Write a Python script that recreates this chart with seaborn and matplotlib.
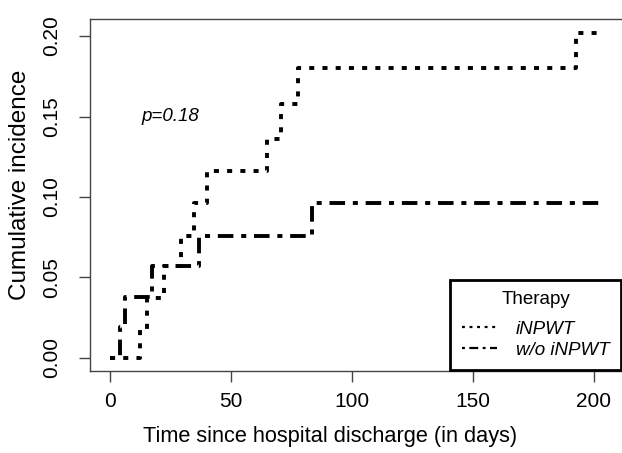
import matplotlib
matplotlib.use("Agg")
import matplotlib.pyplot as plt
import pandas as pd
import seaborn as sns

# cumulative incidence step values
INPWT_TIME = [0, 12.5, 15.5, 22.4, 29.6, 34.8, 40.0, 65.0, 70.8, 77.7, 192.5, 203.5]
INPWT_CIF = [0, 0.018, 0.037, 0.057, 0.076, 0.096, 0.116, 0.136, 0.158, 0.180, 0.202, 0.202]
WO_TIME = [0, 4.3, 6.2, 17.6, 36.7, 83.5, 203.5]
WO_CIF = [0, 0.019, 0.038, 0.057, 0.076, 0.096, 0.096]
GROUPS = ["iNPWT", "w/o iNPWT"]
X_TICKS = [0, 50, 100, 150, 200]
Y_TICKS = [0.00, 0.05, 0.10, 0.15, 0.20]

sns.set_theme(style="white")
plt.rcParams["font.family"] = ["Liberation Sans", "DejaVu Sans"]
plt.rcParams["text.color"] = "black"
plt.rcParams["axes.labelcolor"] = "black"

df = pd.concat(
    [
        pd.DataFrame({"time": INPWT_TIME, "cif": INPWT_CIF, "therapy": GROUPS[0]}),
        pd.DataFrame({"time": WO_TIME, "cif": WO_CIF, "therapy": GROUPS[1]}),
    ],
    ignore_index=True,
)

fig = plt.figure(figsize=(6.22, 4.53), dpi=100)
ax = fig.add_axes([90 / 622, 1 - 371 / 453, 532 / 622, 352 / 453])

sns.lineplot(
    data=df,
    x="time",
    y="cif",
    style="therapy",
    style_order=GROUPS,
    dashes={"iNPWT": (1.3, 2.1), "w/o iNPWT": (1.3, 2.0, 4.0, 2.0)},
    color="black",
    lw=2.8,
    drawstyle="steps-post",
    estimator=None,
    sort=False,
    legend=False,
    ax=ax,
)

ax.set_xlim(-8.14, 211.6)
ax.set_ylim(-0.0081, 0.2106)
ax.set_xticks(X_TICKS)
ax.set_yticks(Y_TICKS)
ax.set_xticklabels([str(t) for t in X_TICKS])
ax.set_yticklabels([f"{t:.2f}" for t in Y_TICKS], rotation=90, va="center")

for side in ["left", "bottom", "top"]:
    ax.spines[side].set_color("#444444")
    ax.spines[side].set_linewidth(1.0)
ax.spines["right"].set_visible(False)

ax.tick_params(axis="both", direction="out", length=8, width=1.0, color="#444444",
               labelsize=15, labelcolor="black", bottom=True, left=True)
ax.tick_params(axis="x", pad=7)
ax.tick_params(axis="y", pad=13)

ax.set_xlabel("Time since hospital discharge (in days)", fontsize=15.7)
ax.set_ylabel("Cumulative incidence", fontsize=17.5)
ax.xaxis.set_label_coords((330 - 90) / 532, -0.155)
ax.yaxis.set_label_coords(-0.111, (371 - 185) / 352)

ax.text(25, 0.15, "p=0.18", fontsize=13.5, style="italic", ha="center", va="center")

leg = ax.legend(
    handles=ax.get_lines(),
    labels=GROUPS,
    title="Therapy",
    loc="lower right",
    bbox_to_anchor=(0.998, 0.003),
    borderaxespad=0,
    frameon=True,
    fancybox=False,
    framealpha=1,
    edgecolor="black",
    prop={"size": 13.5, "style": "italic"},
    title_fontsize=13.5,
    handlelength=1.9,
    handletextpad=1.0,
    labelspacing=0.2,
    borderpad=0.6,
)
leg._legend_box.sep = 9.0
leg.get_frame().set_linewidth(2.0)
for line in leg.get_lines():
    line.set_linewidth(1.6)

fig.savefig("out.png", dpi=100)
